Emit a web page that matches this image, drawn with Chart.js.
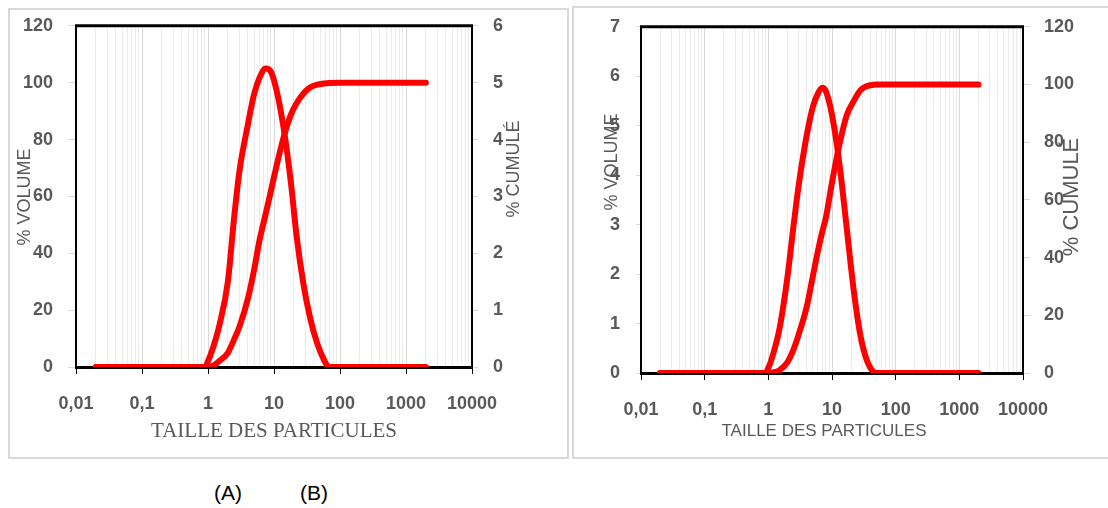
<!DOCTYPE html>
<html>
<head>
<meta charset="utf-8">
<script src="https://cdn.jsdelivr.net/npm/chart.js@4/dist/chart.umd.min.js"></script>
<style>
  body { margin: 0; background: #fff; width: 1108px; height: 508px; overflow: hidden; position: relative; font-family: "Liberation Sans", Arial, sans-serif; }
  .panel { position: absolute; border: 2px solid #d9d9d9; box-sizing: border-box; }
  #pA { left: 8px; top: 8px; width: 561px; height: 451px; }
  #pB { left: 572px; top: 6px; width: 560px; height: 453px; }
  canvas { position: absolute; top: 0; }
  #chartA { left: 0; }
  #chartB { left: 570px; }
  .cap { position: absolute; top: 481px; width: 60px; margin-left: -30px; text-align: center; font-size: 21px; color: #000; }
</style>
</head>
<body>
<div class="panel" id="pA"></div>
<div class="panel" id="pB"></div>
<canvas id="chartA" width="567" height="460"></canvas>
<canvas id="chartB" width="538" height="460"></canvas>
<div class="cap" style="left:228px">(A)</div>
<div class="cap" style="left:314px">(B)</div>

<script>
// x axis (log) : decades and labels
const xDecades = [0.01, 0.1, 1, 10, 100, 1000, 10000];
const xLabels  = ["0,01", "0,1", "1", "10", "100", "1000", "10000"];

// chart (A) — taille des particules, % volume (bell) and % cumulé (S)
const sizesA  = [0.02, 0.1, 0.5, 0.9, 1, 1.2, 1.5, 2, 2.5, 3, 4, 5, 6, 7.5, 9, 11, 14, 18, 22, 28, 35, 45, 57, 68, 100, 500, 2000];
const volumeA = [0, 0, 0, 0, 0.1, 0.35, 0.75, 1.5, 2.65, 3.45, 4.25, 4.8, 5.08, 5.25, 5.19, 4.85, 4.2, 3.25, 2.3, 1.45, 0.88, 0.42, 0.13, 0, 0, 0, 0];
const cumulA  = [0, 0, 0, 0, 0, 0.5, 2.2, 5, 9.8, 14.2, 23.8, 34.2, 44.3, 54, 62, 71, 80.8, 88.7, 92.8, 96.2, 98.3, 99.3, 99.7, 99.9, 100, 100, 100];

// chart (B)
const sizesB  = [0.02, 0.1, 0.5, 0.9, 1, 1.2, 1.5, 2, 2.5, 3, 4, 5, 6, 7, 8, 10, 13, 17, 22, 28, 35, 45, 50, 100, 500, 2000];
const volumeB = [0, 0, 0, 0, 0.1, 0.4, 0.9, 1.95, 3.0, 3.8, 4.8, 5.38, 5.65, 5.77, 5.7, 5.22, 4.26, 2.94, 1.66, 0.75, 0.27, 0.02, 0, 0, 0, 0];
const cumulB  = [0, 0, 0, 0, 0, 0.2, 1.0, 3.8, 8.3, 13.4, 22.9, 33.5, 42.2, 48.8, 53.8, 66, 78.9, 89.3, 94.3, 98, 99.4, 99.9, 100, 100, 100, 100];

const RED = "#ff0000";
const GREY_TXT = "#595959";
const tickFont = { family: "'Liberation Sans', Arial, sans-serif", size: 18, weight: "bold" };

// minor + major ticks of the log axis
const xTicks = [];
xDecades.forEach((d, i) => {
  if (i === xDecades.length - 1) { xTicks.push({ value: d, dec: true, label: xLabels[i] }); return; }
  for (let k = 1; k <= 9; k++) {
    xTicks.push({ value: +(k * d).toPrecision(3), dec: k === 1, label: k === 1 ? xLabels[i] : "" });
  }
});

function pts(xs, ys) { return xs.map((x, i) => ({ x: x, y: ys[i] })); }

const extras = {
  id: "extras",
  afterDraw(chart, args, o) {
    const { ctx, chartArea: a } = chart;
    ctx.save();
    ctx.strokeStyle = "#000";
    ctx.lineWidth = 3;
    ctx.beginPath();
    ctx.moveTo(a.left - 1, a.top);
    ctx.lineTo(a.right + 1, a.top);
    ctx.stroke();
    ctx.fillStyle = GREY_TXT;
    ctx.textAlign = "center";
    ctx.textBaseline = "middle";
    (o.titles || []).forEach(t => {
      ctx.save();
      ctx.font = t.font;
      ctx.translate(t.x, t.y);
      if (t.rot) ctx.rotate(-Math.PI / 2);
      ctx.fillText(t.text, 0, 0);
      ctx.restore();
    });
    ctx.restore();
  }
};

function yScale(pos, max, step, width, tl, pad) {
  return {
    position: pos,
    min: 0, max: max,
    afterFit: s => { s.width = width; },
    grid: { drawOnChartArea: false, color: "#d9d9d9", tickLength: tl },
    border: { color: "#000", width: 2 },
    ticks: { stepSize: step, color: GREY_TXT, font: tickFont, padding: pad }
  };
}

function makeChart(id, cfg) {
  return new Chart(document.getElementById(id), {
    type: "scatter",
    data: {
      datasets: [
        { data: pts(cfg.sizes, cfg.volume), yAxisID: cfg.volAxis },
        { data: pts(cfg.sizes, cfg.cumul), yAxisID: cfg.cumAxis }
      ].map(ds => Object.assign(ds, {
        showLine: true, borderColor: RED, borderWidth: 6, pointRadius: 0,
        borderCapStyle: "round", borderJoinStyle: "round", cubicInterpolationMode: "monotone"
      }))
    },
    options: {
      responsive: false,
      animation: false,
      layout: { padding: { top: cfg.top, left: 0, right: 0, bottom: 0 } },
      plugins: { legend: { display: false }, tooltip: { enabled: false }, extras: { titles: cfg.titles } },
      scales: {
        x: {
          type: "logarithmic",
          min: 0.01, max: 10000,
          afterBuildTicks: s => { s.ticks = xTicks.map(t => Object.assign({}, t)); },
          afterFit: s => { s.height = cfg.xHeight; },
          grid: {
            color: c => (c.tick && c.tick.dec ? "#d9d9d9" : "#ebebeb"),
            tickColor: c => (c.tick && c.tick.dec ? "#000" : "rgba(0,0,0,0)"),
            tickLength: 7
          },
          border: { color: "#000", width: 3 },
          ticks: {
            autoSkip: false, maxRotation: 0, color: GREY_TXT, font: tickFont, padding: 19,
            callback: (v, i) => xTicks[i].label
          }
        },
        y: yScale("left", cfg.yMax, cfg.yStep, cfg.leftW, cfg.leftTl, cfg.leftPad),
        y2: yScale("right", cfg.y2Max, cfg.y2Step, cfg.rightW, cfg.rightTl, cfg.rightPad)
      }
    },
    plugins: [extras]
  });
}

makeChart("chartA", {
  sizes: sizesA, volume: volumeA, cumul: cumulA, volAxis: "y2", cumAxis: "y",
  top: 25, xHeight: 93,
  yMax: 120, yStep: 20, leftW: 76, leftTl: 8, leftPad: 15,
  y2Max: 6, y2Step: 1, rightW: 95, rightTl: 6, rightPad: 15,
  titles: [
    { text: "TAILLE DES PARTICULES", x: 274, y: 431, font: "21px 'Liberation Serif', 'Times New Roman', serif" },
    { text: "% VOLUME", x: 25, y: 197, rot: true, font: "18px 'Liberation Sans', Arial, sans-serif" },
    { text: "% CUMULÉ", x: 514, y: 169, rot: true, font: "18px 'Liberation Sans', Arial, sans-serif" }
  ]
});

makeChart("chartB", {
  sizes: sizesB, volume: volumeB, cumul: cumulB, volAxis: "y", cumAxis: "y2",
  top: 24, xHeight: 87,
  yMax: 7, yStep: 1, leftW: 71, leftTl: 5, leftPad: 16,
  y2Max: 120, y2Step: 20, rightW: 85, rightTl: 7, rightPad: 14,
  titles: [
    { text: "TAILLE DES PARTICULES", x: 254, y: 431, font: "17px 'Liberation Sans', Arial, sans-serif" },
    { text: "% VOLUME", x: 42, y: 162, rot: true, font: "18px 'Liberation Sans', Arial, sans-serif" },
    { text: "% CUMULÉ", x: 502, y: 197, rot: true, font: "22px 'Liberation Sans', Arial, sans-serif" }
  ]
});
</script>
</body>
</html>
